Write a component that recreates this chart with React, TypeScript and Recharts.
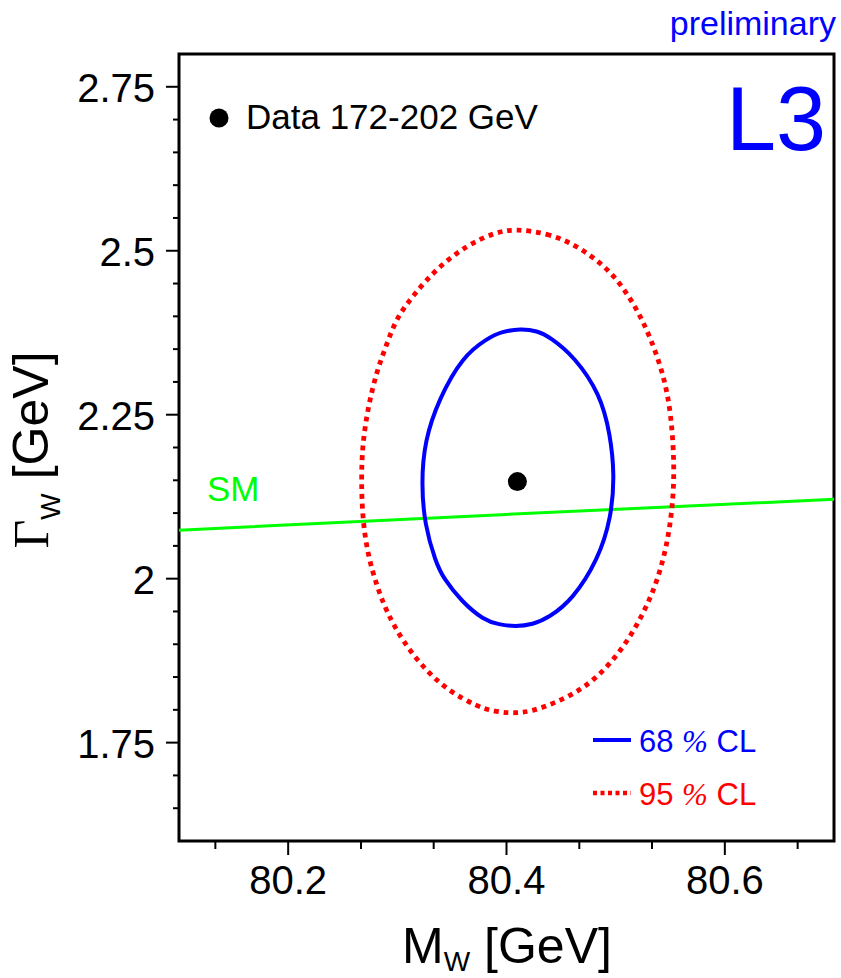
import React from 'react';
import { ComposedChart, Line, Scatter, XAxis, YAxis, ReferenceArea } from 'recharts';

// fitted W mass and width [GeV]
const fitPoint = [{ x: 80.41, y: 2.148 }];

// 68 % CL contour, (M_W, Gamma_W) clockwise from the top; drawn as a closed curve
const cl68: [number, number][] = [
  [80.413, 2.381], [80.428, 2.378], [80.44, 2.368], [80.462, 2.339], [80.486, 2.281],
  [80.495, 2.22], [80.499, 2.159], [80.496, 2.093], [80.484, 2.029], [80.46, 1.967],
  [80.439, 1.941], [80.424, 1.93], [80.408, 1.927], [80.393, 1.93], [80.379, 1.937],
  [80.359, 1.965], [80.342, 2.001], [80.335, 2.026], [80.325, 2.082], [80.322, 2.146],
  [80.325, 2.21], [80.338, 2.274], [80.36, 2.339], [80.382, 2.366], [80.396, 2.377],
];

// 95 % CL contour
const cl95: [number, number][] = [
  [80.409, 2.533], [80.437, 2.527], [80.464, 2.509], [80.495, 2.471], [80.516, 2.422],
  [80.531, 2.372], [80.544, 2.311], [80.551, 2.25], [80.554, 2.168], [80.552, 2.107],
  [80.547, 2.051], [80.538, 1.995], [80.525, 1.945], [80.507, 1.894], [80.483, 1.848],
  [80.458, 1.82], [80.428, 1.8], [80.415, 1.796], [80.403, 1.795], [80.388, 1.798],
  [80.373, 1.805], [80.348, 1.828], [80.327, 1.858], [80.305, 1.904], [80.29, 1.95],
  [80.281, 1.99], [80.273, 2.036], [80.268, 2.092], [80.267, 2.153], [80.268, 2.204],
  [80.273, 2.26], [80.281, 2.316], [80.29, 2.356], [80.299, 2.397], [80.315, 2.433],
  [80.336, 2.473], [80.364, 2.509], [80.391, 2.529],
];

// Standard Model prediction Gamma_W(M_W)
const smLine: [number, number][] = [[80.1, 2.074], [80.4, 2.098], [80.7, 2.121]];

const xDomain: [number, number] = [80.1, 80.7];
const yDomain: [number, number] = [1.6, 2.8];
const xMajor = [80.2, 80.4, 80.6];
const xTicks = [80.1333, 80.2, 80.2667, 80.3333, 80.4, 80.4667, 80.5333, 80.6, 80.6667];
const yMajor = [1.75, 2, 2.25, 2.5, 2.75];
const yTicks = [
  1.65, 1.7, 1.75, 1.8, 1.85, 1.9, 1.95, 2, 2.05, 2.1, 2.15, 2.2,
  2.25, 2.3, 2.35, 2.4, 2.45, 2.5, 2.55, 2.6, 2.65, 2.7, 2.75,
];

const toXY = (pts: [number, number][]) => pts.map(([x, y]) => ({ x, y }));

const BLUE = '#0000ff';
const RED = '#ff0000';
const GREEN = '#00ff00';

const isMajor = (v: number, majors: number[]) => majors.some((m) => Math.abs(m - v) < 1e-6);

const BottomTick = (props: any) => {
  const { x, y, payload } = props;
  const major = isMajor(payload.value, xMajor);
  return (
    <g>
      <line x1={x} y1={y} x2={x} y2={y + (major ? 14 : 8)} stroke="#000" strokeWidth={2} />
      {major && (
        <text x={x} y={y + 53} textAnchor="middle" fontSize={40} fill="#000">
          {payload.value}
        </text>
      )}
    </g>
  );
};

const TopTick = (props: any) => {
  const { x, y, payload } = props;
  const major = isMajor(payload.value, xMajor);
  return <line x1={x} y1={y} x2={x} y2={y + (major ? 19 : 9)} stroke="#000" strokeWidth={2} />;
};

const LeftTick = (props: any) => {
  const { x, y, payload } = props;
  const major = isMajor(payload.value, yMajor);
  return (
    <g>
      <line x1={x - (major ? 13 : 6)} y1={y} x2={x} y2={y} stroke="#000" strokeWidth={2} />
      {major && (
        <text x={x - 24} y={y + 15} textAnchor="end" fontSize={40} fill="#000">
          {payload.value}
        </text>
      )}
    </g>
  );
};

const RightTick = (props: any) => {
  const { x, y, payload } = props;
  const major = isMajor(payload.value, yMajor);
  return <line x1={x - (major ? 22 : 10)} y1={y} x2={x} y2={y} stroke="#000" strokeWidth={2} />;
};

const FitDot = (props: any) => <circle cx={props.cx} cy={props.cy} r={9.5} fill="#000" />;

export default function App() {
  return (
    <div style={{ position: 'absolute', left: 0, top: 0, fontFamily: '"Liberation Sans", Arial, sans-serif' }}>
      <ComposedChart width={841} height={978} margin={{ top: 54, right: 7, bottom: 0, left: 0 }}>
        <XAxis
          xAxisId={0}
          type="number"
          dataKey="x"
          domain={xDomain}
          allowDataOverflow
          ticks={xTicks}
          interval={0}
          height={137}
          tickSize={0}
          tickMargin={0}
          axisLine={false}
          tick={<BottomTick />}
        />
        <XAxis
          xAxisId="top"
          orientation="top"
          type="number"
          dataKey="x"
          domain={xDomain}
          allowDataOverflow
          ticks={xTicks}
          interval={0}
          height={0}
          tickSize={0}
          tickMargin={0}
          axisLine={false}
          tick={<TopTick />}
        />
        <YAxis
          yAxisId={0}
          type="number"
          dataKey="y"
          domain={yDomain}
          allowDataOverflow
          ticks={yTicks}
          interval={0}
          width={179}
          tickSize={0}
          tickMargin={0}
          axisLine={false}
          tick={<LeftTick />}
        />
        <YAxis
          yAxisId="right"
          orientation="right"
          type="number"
          dataKey="y"
          domain={yDomain}
          allowDataOverflow
          ticks={yTicks}
          interval={0}
          width={0}
          tickSize={0}
          tickMargin={0}
          axisLine={false}
          tick={<RightTick />}
        />

        <ReferenceArea
          x1={xDomain[0]}
          x2={xDomain[1]}
          y1={yDomain[0]}
          y2={yDomain[1]}
          fill="none"
          fillOpacity={0}
          stroke="#000"
          strokeWidth={3}
        />

        <Line
          data={toXY(smLine)}
          dataKey="y"
          type="linear"
          stroke={GREEN}
          strokeWidth={3}
          dot={false}
          activeDot={false}
          isAnimationActive={false}
        />
        <Line
          data={toXY(cl95)}
          dataKey="y"
          type="basisClosed"
          stroke={RED}
          strokeWidth={4.8}
          strokeDasharray="4.8 4.9"
          dot={false}
          activeDot={false}
          isAnimationActive={false}
        />
        <Line
          data={toXY(cl68)}
          dataKey="y"
          type="basisClosed"
          stroke={BLUE}
          strokeWidth={4}
          dot={false}
          activeDot={false}
          isAnimationActive={false}
        />
        <Scatter data={fitPoint} dataKey="y" shape={<FitDot />} isAnimationActive={false} />

        {/* labels */}
        <text x={836} y={35} textAnchor="end" fontSize={34} fill={BLUE}>preliminary</text>
        <text x={826} y={150} textAnchor="end" fontSize={90} fill={BLUE}>L3</text>

        <circle cx={219} cy={118} r={9.5} fill="#000" />
        <text x={246} y={129} fontSize={35} fill="#000">Data 172-202 GeV</text>

        <text x={207} y={501} fontSize={35} fill={GREEN}>SM</text>

        <line x1={593} y1={740} x2={631} y2={740} stroke={BLUE} strokeWidth={4} />
        <text x={639} y={752} fontSize={31} fill={BLUE}>
          68 <tspan fontFamily='"Liberation Serif", serif' fontStyle="italic">%</tspan> CL
        </text>
        <line x1={593} y1={793} x2={631} y2={793} stroke={RED} strokeWidth={4.5} strokeDasharray="4 3.5" />
        <text x={639} y={805} fontSize={31} fill={RED}>
          95 <tspan fontFamily='"Liberation Serif", serif' fontStyle="italic">%</tspan> CL
        </text>

        <text x={507} y={963} textAnchor="middle" fontSize={50} fill="#000">
          M<tspan fontSize={28} dy={8}>W</tspan>
          <tspan dy={-8}> [GeV]</tspan>
        </text>
        <text transform="translate(48,450) rotate(-90)" textAnchor="middle" fontSize={50} fill="#000">
          <tspan fontFamily='"Liberation Serif", serif'>Γ</tspan>
          <tspan fontSize={28} dy={12}>W</tspan>
          <tspan dy={-12}> [GeV]</tspan>
        </text>
      </ComposedChart>
    </div>
  );
}
